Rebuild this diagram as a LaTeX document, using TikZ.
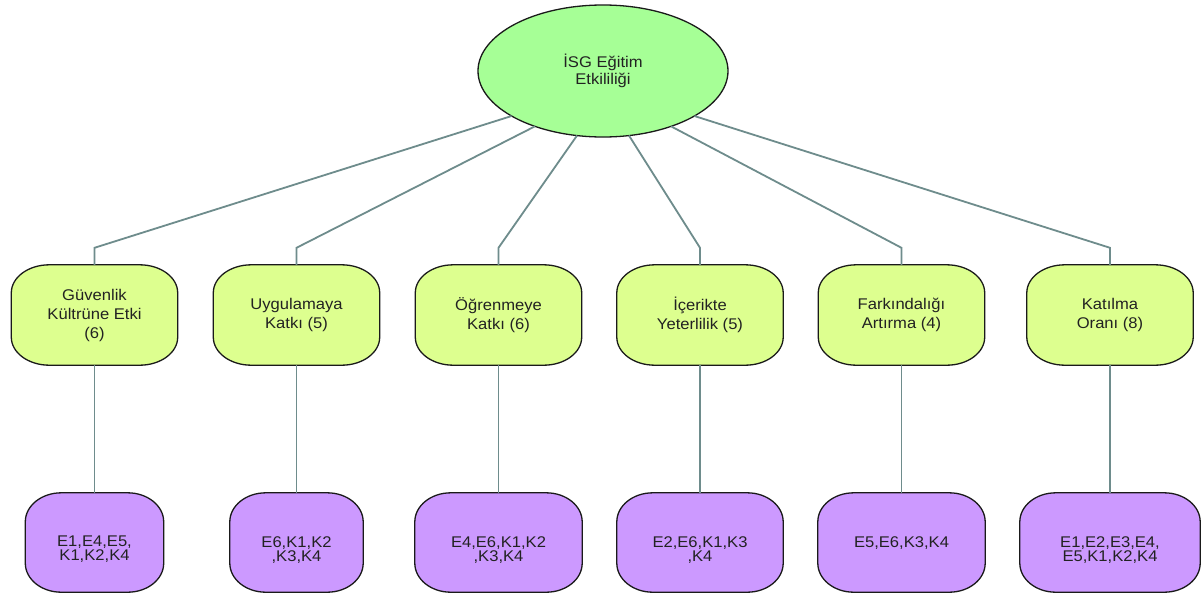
\documentclass[tikz,border=0pt]{standalone}
\usepackage{fontspec}
\setmainfont{Liberation Sans}[FakeStretch=1.07]
\usetikzlibrary{calc,shapes.geometric,backgrounds}
\definecolor{rootfill}{HTML}{A6FF96}
\definecolor{midfill}{HTML}{DDFF8F}
\definecolor{leaffill}{HTML}{CC99FF}
\definecolor{linkcol}{HTML}{6E8C8C}
\definecolor{edgecol}{HTML}{1A1A1A}
\definecolor{txtcol}{HTML}{222222}
% box outline with elliptical corners around a node: name, x radius, y radius, style
\newcommand\ovalframe[4]{%
  \path[#4] ($(#1.north west)+(#2,0)$) -- ($(#1.north east)+(-#2,0)$)
    arc[start angle=90,end angle=0,x radius=#2pt,y radius=#3pt]
    -- ($(#1.south east)+(0,-#3)$)
    arc[start angle=0,end angle=-90,x radius=#2pt,y radius=#3pt]
    -- ($(#1.south west)+(#2,0)$)
    arc[start angle=-90,end angle=-180,x radius=#2pt,y radius=#3pt]
    -- ($(#1.north west)+(0,#3)$)
    arc[start angle=180,end angle=90,x radius=#2pt,y radius=#3pt] -- cycle;}
\begin{document}
\begin{tikzpicture}[x=1pt,y=-1pt,
  every node/.style={text=txtcol},
  rootnode/.style={ellipse, draw=edgecol, line width=1.3pt, fill=rootfill,
    minimum width=250pt, minimum height=132pt, inner sep=0pt, align=center,
    font=\fontsize{15.5}{17}\selectfont},
  midbox/.style={rectangle, minimum width=166pt, minimum height=100pt,
    inner sep=0pt, align=center, font=\fontsize{15.5}{19}\selectfont},
  leafbox/.style={rectangle, minimum height=99pt, inner sep=0pt},
  leaftext/.style={anchor=north, inner sep=0pt, align=center,
    font=\fontsize{15.5}{14}\selectfont},
  midframe/.style={draw=edgecol, line width=1.3pt, fill=midfill},
  leafframe/.style={draw=edgecol, line width=1.3pt, fill=leaffill},
  link/.style={draw=linkcol, line width=1.8pt}
]
\begin{scope}[on background layer]
  \useasboundingbox[fill=white] (0,0) rectangle (1203,595);
\end{scope}

% root
\node[rootnode] (root) at (603,71) {İSG Eğitim\\Etkililiği};

% criteria
\node[midbox] (m1) at (94.5,315) {Güvenlik\\Kültrüne Etki\\(6)};
\node[midbox] (m2) at (296.5,315) {Uygulamaya\\Katkı (5)};
\node[midbox] (m3) at (498.5,315) {Öğrenmeye\\Katkı (6)};
\node[midbox] (m4) at (700,315) {İçerikte\\Yeterlilik (5)};
\node[midbox] (m5) at (901.5,315) {Farkındalığı\\Artırma (4)};
\node[midbox] (m6) at (1110,315) {Katılma\\Oranı (8)};

% item groups
\node[leafbox, minimum width=138pt] (b1) at (94.5,542.5) {};
\node[leafbox, minimum width=133pt] (b2) at (296.5,542.5) {};
\node[leafbox, minimum width=167pt] (b3) at (498.5,542.5) {};
\node[leafbox, minimum width=166pt] (b4) at (700,542.5) {};
\node[leafbox, minimum width=167pt] (b5) at (901.5,542.5) {};
\node[leafbox, minimum width=180pt] (b6) at (1110,542.5) {};

\node[leaftext] (t1) at (94.5,536) {E1,E4,E5,\\K1,K2,K4};
\node[leaftext] (t2) at (296.5,536) {E6,K1,K2\\,K3,K4};
\node[leaftext] (t3) at (498.5,536) {E4,E6,K1,K2\\,K3,K4};
\node[leaftext] (t4) at (700,536) {E2,E6,K1,K3\\,K4};
\node[leaftext] (t5) at (901.5,536) {E5,E6,K3,K4};
\node[leaftext] (t6) at (1110,536) {E1,E2,E3,E4,\\E5,K1,K2,K4};

% box outlines behind the texts
\begin{scope}[on background layer]
  \foreach \i in {1,...,6}{
    \ovalframe{m\i}{38}{28}{midframe}
    \ovalframe{b\i}{36}{29}{leafframe}
  }
\end{scope}

% attachment points on the root ellipse
\foreach \i/\a in {1/137,2/123,3/102,4/78,5/57,6/43}{
  \coordinate (e\i) at ($(root.center)+({125*cos(\a)},{66*sin(\a)})$);
}
% elbows above the criteria
\foreach \i in {1,...,6}{
  \coordinate (k\i) at ($(m\i.north)+(0,-17)$);
}

% connectors
\foreach \i in {1,...,6}{
  \draw[link] (e\i) -- (k\i) -- (m\i.north);
  \draw[link] (m\i.south) -- (b\i.north);
}
\end{tikzpicture}
\end{document}
